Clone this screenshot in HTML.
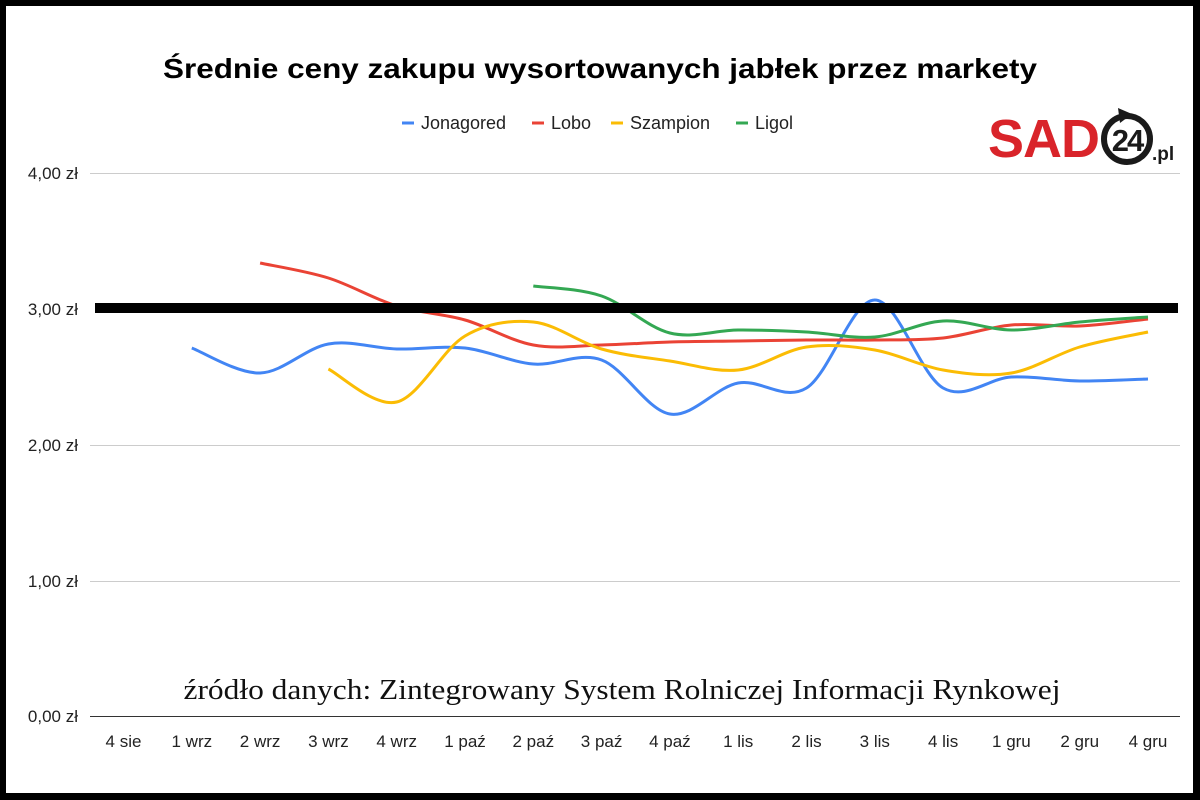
<!DOCTYPE html>
<html><head><meta charset="utf-8"><style>
html,body{margin:0;padding:0;background:#000;}
#w{position:absolute;left:6px;top:6px;width:1187px;height:787px;background:#fff;}
svg{position:absolute;left:0;top:0}
</style></head><body>
<div id="w"></div>
<svg width="1200" height="800" xmlns="http://www.w3.org/2000/svg" font-family="Liberation Sans, Arial, sans-serif">
<text x="600" y="78" text-anchor="middle" font-size="28" font-weight="bold" fill="#000" textLength="874" lengthAdjust="spacingAndGlyphs">Średnie ceny zakupu wysortowanych jabłek przez markety</text>
<g font-size="18" fill="#222">
<line x1="402" y1="123" x2="414" y2="123" stroke="#4285f4" stroke-width="3"/><text x="421" y="129">Jonagored</text>
<line x1="532" y1="123" x2="544" y2="123" stroke="#ea4335" stroke-width="3"/><text x="551" y="129">Lobo</text>
<line x1="611" y1="123" x2="623" y2="123" stroke="#fbbc04" stroke-width="3"/><text x="630" y="129">Szampion</text>
<line x1="736" y1="123" x2="748" y2="123" stroke="#34a853" stroke-width="3"/><text x="755" y="129">Ligol</text>
</g>
<text x="988" y="157" font-size="54" font-weight="bold" fill="#d9242a" letter-spacing="-1">SAD</text>
<circle cx="1127" cy="139" r="23" fill="none" stroke="#1a1a1a" stroke-width="6"/>
<path d="M1118 108 l14 6 l-12 9z" fill="#1a1a1a"/>
<text x="1127" y="151" text-anchor="middle" font-size="31" font-weight="bold" fill="#1a1a1a" letter-spacing="-2">24</text>
<text x="1152" y="160" font-size="19" font-weight="bold" fill="#1a1a1a">.pl</text>
<g stroke="#ccc" stroke-width="1">
<line x1="90" y1="173.5" x2="1180" y2="173.5"/><line x1="90" y1="445.5" x2="1180" y2="445.5"/><line x1="90" y1="581.5" x2="1180" y2="581.5"/>
</g>
<line x1="90" y1="716.5" x2="1180" y2="716.5" stroke="#333" stroke-width="1"/>
<g font-size="17" fill="#222" text-anchor="end">
<text x="78" y="179">4,00 zł</text><text x="78" y="315">3,00 zł</text><text x="78" y="451">2,00 zł</text><text x="78" y="587">1,00 zł</text><text x="78" y="722">0,00 zł</text>
</g>
<g id="xl" font-size="17" fill="#222" text-anchor="middle"></g>
<g id="series" fill="none" stroke-width="3"></g>
<line x1="95" y1="308" x2="1178" y2="308" stroke="#000" stroke-width="10"/>
<text x="622" y="699" text-anchor="middle" font-family="Liberation Serif, serif" font-size="28" fill="#111" textLength="877" lengthAdjust="spacingAndGlyphs">źródło danych: Zintegrowany System Rolniczej Informacji Rynkowej</text>
</svg>
<script>
var labs=["4 sie","1 wrz","2 wrz","3 wrz","4 wrz","1 paź","2 paź","3 paź","4 paź","1 lis","2 lis","3 lis","4 lis","1 gru","2 gru","4 gru"];
var xs=labs.map(function(_,i){return 123.5+i*68.3;});
var g=document.getElementById('xl'),h='';
labs.forEach(function(l,i){h+='<text x="'+xs[i]+'" y="747">'+l+'</text>';});
g.innerHTML=h;
var S=[
["#4285f4",1,[348,373,344,349,348,364,360,414,383,388,300,388,377,381,379]],
["#ea4335",2,[263,278,306,320,345,345,342,341,340,340,338,325,326,319]],
["#fbbc04",3,[369,402,336,322,349,361,370,347,350,370,373,347,332]],
["#34a853",6,[286,296,333,330,332,337,321,330,322,317]]];
var out='';
S.forEach(function(s){
 var p=s[2].map(function(y,i){return [xs[s[1]+i],y];});
 var d='M'+p[0][0]+' '+p[0][1];
 for(var i=0;i<p.length-1;i++){
  var p0=p[i-1]||p[i],p1=p[i],p2=p[i+1],p3=p[i+2]||p2,t=6;
  d+=' C'+(p1[0]+(p2[0]-p0[0])/t)+' '+(p1[1]+(p2[1]-p0[1])/t)+' '+(p2[0]-(p3[0]-p1[0])/t)+' '+(p2[1]-(p3[1]-p1[1])/t)+' '+p2[0]+' '+p2[1];
 }
 out+='<path d="'+d+'" stroke="'+s[0]+'"/>';
});
document.getElementById('series').innerHTML=out;
</script>
</body></html>
